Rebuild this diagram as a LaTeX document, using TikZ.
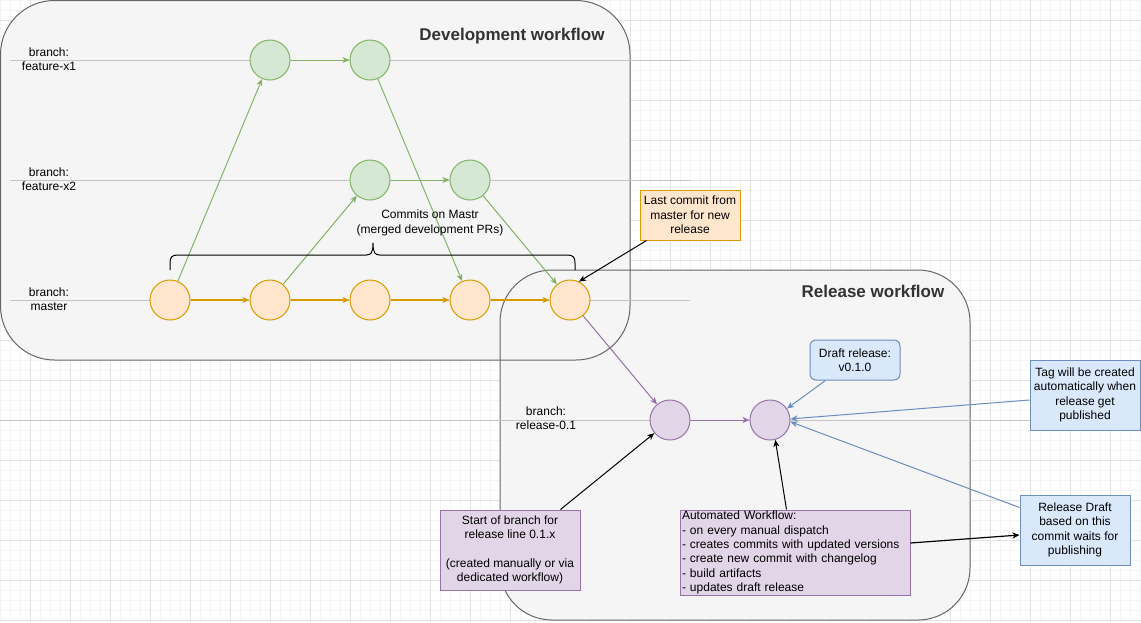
\documentclass[tikz,border=0pt]{standalone}
\usepackage{fontspec}
\setmainfont{Liberation Sans}
\usetikzlibrary{arrows.meta,calc}
\definecolor{gfill}{HTML}{D5E8D4}\definecolor{gline}{HTML}{82B366}
\definecolor{ofill}{HTML}{FFE6CC}\definecolor{oline}{HTML}{D79B00}
\definecolor{pfill}{HTML}{E1D5E7}\definecolor{pline}{HTML}{9673A6}
\definecolor{bfill}{HTML}{DAE8FC}\definecolor{bline}{HTML}{6C8EBF}
\definecolor{boxfill}{HTML}{F5F5F5}\definecolor{boxline}{HTML}{666666}
\definecolor{titlecol}{HTML}{333333}
\definecolor{branchcol}{HTML}{C4C4C4}
\definecolor{gmaj}{HTML}{E2E2E2}\definecolor{gmin}{HTML}{F4F4F4}
\begin{document}
\begin{tikzpicture}[x=1pt,y=-1pt,
  font=\fontsize{12}{14.4}\selectfont,
  >={Stealth[length=7pt,width=6pt,inset=2pt]},
  commit/.style={circle,draw,line width=1pt,minimum size=40pt,inner sep=0pt},
  gcommit/.style={commit,fill=gfill,draw=gline},
  ocommit/.style={commit,fill=ofill,draw=oline},
  pcommit/.style={commit,fill=pfill,draw=pline},
  note/.style={rectangle,draw,line width=1pt,inner sep=0pt,align=center},
  onote/.style={note,fill=ofill,draw=oline},
  bnote/.style={note,fill=bfill,draw=bline},
  pnote/.style={note,fill=pfill,draw=pline},
  branchlbl/.style={align=center,inner sep=0pt},
  branchln/.style={draw=branchcol,line width=1pt},
  container/.style={line width=1pt},
  wftitle/.style={font=\fontsize{17}{20}\selectfont\bfseries,text=titlecol,inner sep=0pt},
  gedge/.style={->,draw=gline,line width=1pt},
  oedge/.style={->,draw=oline,line width=1.5pt},
  pedge/.style={->,draw=pline,line width=1pt},
  bedge/.style={->,draw=bline,line width=1pt},
  kedge/.style={->,draw=black,line width=1pt}]
\useasboundingbox (0,0) rectangle (1141,622);
\fill[white] (0,0) rectangle (1141,622);
% grid
\foreach \x in {0,10,...,1140} {\draw[gmin,line width=1pt] (\x,0) -- (\x,622);}
\foreach \y in {0,10,...,620} {\draw[gmin,line width=1pt] (0,\y) -- (1141,\y);}
\foreach \x in {30,70,...,1130} {\draw[gmaj,line width=1pt] (\x,0) -- (\x,622);}
\foreach \y in {20,60,...,620} {\draw[gmaj,line width=1pt] (0,\y) -- (1141,\y);}
% containers
\fill[boxfill,rounded corners=54pt] (0.5,0.5) rectangle (630,360);
\fill[boxfill,rounded corners=52pt] (500,270) rectangle (970,620);
\draw[container,draw=boxline,rounded corners=54pt] (0.5,0.5) rectangle (630,360);
\draw[container,draw=boxline,rounded corners=52pt] (500,270) rectangle (970,620);
\node[wftitle] (devtitle) at (512,36) {Development workflow};
\node[wftitle] (reltitle) at (873,291) {Release workflow};
% branch lines
\draw[branchln] (10,60) -- (690,60);
\draw[branchln] (10,180) -- (690,180);
\draw[branchln] (10,300) -- (690,300);
\draw[branchln] (0,420) -- (1141,420);
% branch labels
\node[branchlbl] (lx1) at (49,59) {branch:\\feature-x1};
\node[branchlbl] (lx2) at (49,179) {branch:\\feature-x2};
\node[branchlbl] (lms) at (49,299) {branch:\\master};
\node[branchlbl] (lrl) at (546,418) {branch:\\release-0.1};
% commits
\node[gcommit] (f1a) at (270,60) {};
\node[gcommit] (f1b) at (370,60) {};
\node[gcommit] (f2a) at (370,180) {};
\node[gcommit] (f2b) at (470,180) {};
\node[ocommit] (m1) at (170,300) {};
\node[ocommit] (m2) at (270,300) {};
\node[ocommit] (m3) at (370,300) {};
\node[ocommit] (m4) at (470,300) {};
\node[ocommit] (m5) at (570,300) {};
\node[pcommit] (r1) at (670,420) {};
\node[pcommit] (r2) at (770,420) {};
% edges
\draw[gedge] (f1a) -- (f1b);
\draw[gedge] (m1) -- (f1a);
\draw[gedge] (f1b) -- (m4);
\draw[gedge] (m2) -- (f2a);
\draw[gedge] (f2a) -- (f2b);
\draw[gedge] (f2b) -- (m5);
\draw[oedge] (m1) -- (m2);
\draw[oedge] (m2) -- (m3);
\draw[oedge] (m3) -- (m4);
\draw[oedge] (m4) -- (m5);
\draw[pedge] (m5) -- (r1);
\draw[pedge] (r1) -- (r2);
% brace
\draw[line width=1pt] (170,270) -- (170,263) .. controls (170,257) and (172,255) .. (178,255)
  -- (366,255) .. controls (371,255) and (373,253) .. (373,243)
  .. controls (373,253) and (375,255) .. (380,255)
  -- (567,255) .. controls (573,255) and (575,257) .. (575,263) -- (575,270);
\node[align=center,inner sep=0pt] (commitslbl) at (430,223) {Commits on Mastr\\(merged development PRs)};
% notes
\node[onote,minimum width=100pt,minimum height=50pt] (last) at (690,215) {Last commit from\\master for new\\release};
\node[bnote,rounded corners=6pt,minimum width=90pt,minimum height=40pt] (draft) at (855,360) {Draft release:\\v0.1.0};
\node[bnote,minimum width=110pt,minimum height=70pt] (tag) at (1085,395) {Tag will be created\\automatically when\\release get\\published};
\node[bnote,minimum width=110pt,minimum height=70pt] (reldraft) at (1075,530) {Release Draft\\based on this\\commit waits for\\publishing};
\node[pnote,minimum width=140pt,minimum height=80pt] (start) at (510,550) {Start of branch for\\release line 0.1.x\\[14.4pt](created manually or via\\dedicated workflow)};
\node[pnote,minimum width=230pt,minimum height=85pt,text width=226pt,align=left,inner xsep=2pt] (auto) at (795,552.5) {Automated Workflow:\\- on every manual dispatch\\- creates commits with updated versions\\- create new commit with changelog\\- build artifacts\\- updates draft release};
% note connectors
\draw[kedge] ($(last.south west)+(7,0)$) -- (m5.64);
\draw[bedge] ($(draft.south west)+(16,0)$) -- (r2.34);
\draw[bedge] ($(tag.west)+(0,5)$) -- (r2.3);
\draw[bedge] ($(reldraft.north west)+(0,13)$) -- (r2.-5);
\draw[kedge] ($(start.north west)+(121,0)$) -- (r1.220);
\draw[kedge] ($(auto.north west)+(107,0)$) -- (r2.-75);
\draw[kedge,line width=1.2pt] ($(auto.east)+(0,-9.5)$) -- ($(reldraft.west)+(0,5)$);
\end{tikzpicture}
\end{document}
